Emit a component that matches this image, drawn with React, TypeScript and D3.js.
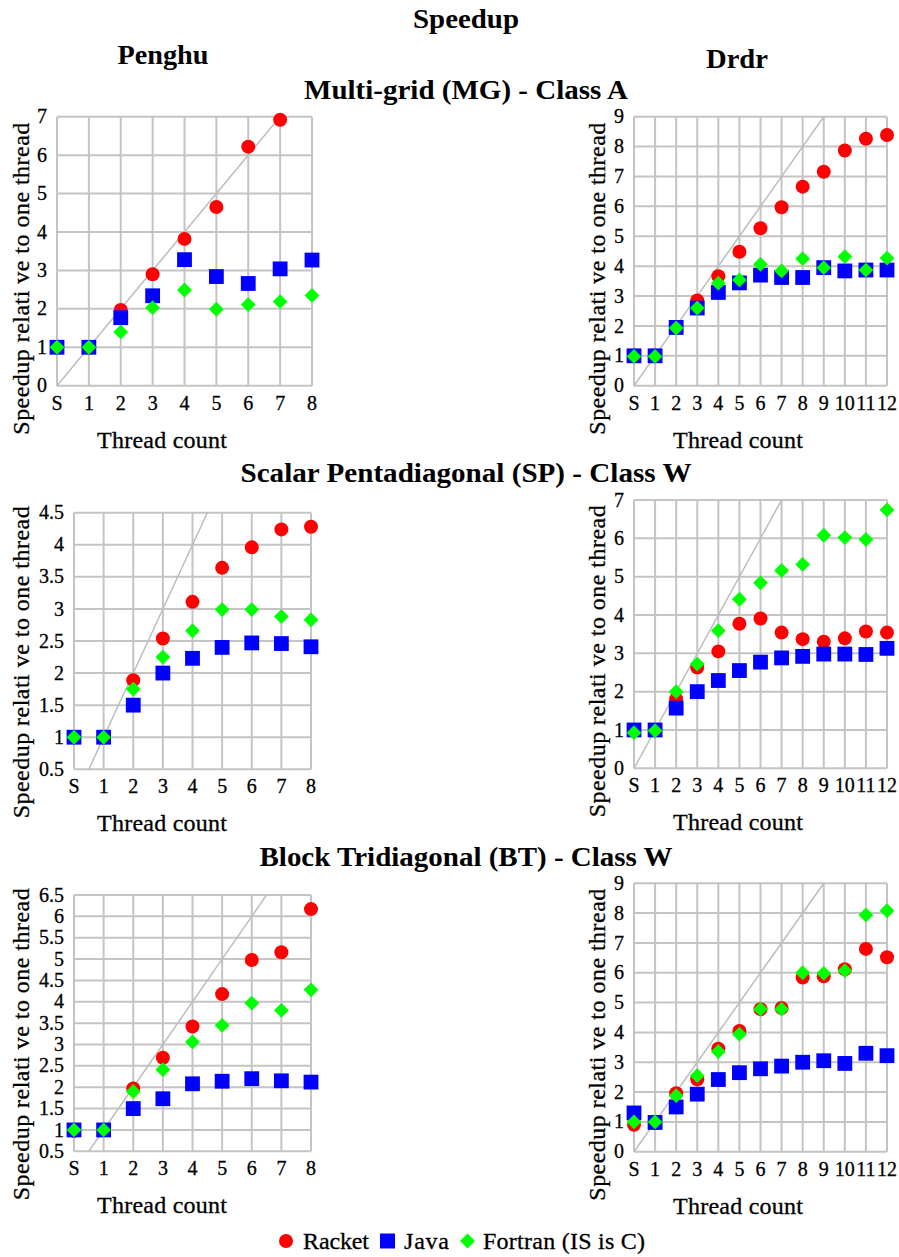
import React, { useRef, useEffect } from 'react';
import * as d3 from 'd3';

// thread-count categories
const catsPenghu = ['S', '1', '2', '3', '4', '5', '6', '7', '8'];
const catsDrdr = ['S', '1', '2', '3', '4', '5', '6', '7', '8', '9', '10', '11', '12'];

// Multi-grid (MG) - Class A
const mgPenghuRacket = [1, 1, 1.97, 2.9, 3.82, 4.65, 6.22, 6.92, null];
const mgPenghuJava = [1, 1, 1.77, 2.34, 3.28, 2.84, 2.66, 3.04, 3.27];
const mgPenghuFortran = [1, 1, 1.4, 2.03, 2.49, 1.99, 2.11, 2.19, 2.35];
const mgDrdrRacket = [1, 1, 1.95, 2.85, 3.66, 4.48, 5.27, 5.97, 6.66, 7.16, 7.87, 8.26, 8.39];
const mgDrdrJava = [1, 1, 1.95, 2.6, 3.12, 3.44, 3.7, 3.62, 3.62, 3.95, 3.84, 3.87, 3.87];
const mgDrdrFortran = [0.98, 0.98, 1.93, 2.6, 3.43, 3.54, 4.06, 3.84, 4.25, 3.95, 4.32, 3.87, 4.27];

// Scalar Pentadiagonal (SP) - Class W
const spPenghuRacket = [1, 1, 1.89, 2.54, 3.11, 3.64, 3.96, 4.24, 4.28];
const spPenghuJava = [1, 1, 1.5, 2.0, 2.23, 2.4, 2.47, 2.46, 2.41];
const spPenghuFortran = [1, 1, 1.75, 2.25, 2.66, 2.99, 2.99, 2.88, 2.83];
const spDrdrRacket = [1, 1, 1.8, 2.63, 3.05, 3.77, 3.91, 3.54, 3.37, 3.3, 3.39, 3.57, 3.54];
const spDrdrJava = [1, 1, 1.57, 2.0, 2.29, 2.55, 2.77, 2.88, 2.92, 2.98, 2.98, 2.97, 3.13];
const spDrdrFortran = [0.93, 0.98, 2.0, 2.72, 3.59, 4.41, 4.84, 5.16, 5.32, 6.08, 6.02, 5.97, 6.74];

// Block Tridiagonal (BT) - Class W
const btPenghuRacket = [0.98, 1, 1.97, 2.69, 3.42, 4.18, 4.98, 5.16, 6.17];
const btPenghuJava = [1, 1, 1.5, 1.73, 2.08, 2.14, 2.2, 2.15, 2.12];
const btPenghuFortran = [1, 1, 1.9, 2.41, 3.06, 3.45, 3.97, 3.8, 4.28];
const btDrdrRacket = [0.9, 0.98, 1.96, 2.43, 3.45, 4.05, 4.78, 4.82, 5.84, 5.88, 6.12, 6.8, 6.52];
const btDrdrJava = [1.3, 0.98, 1.5, 1.93, 2.42, 2.65, 2.78, 2.87, 3.0, 3.05, 2.96, 3.3, 3.22];
const btDrdrFortran = [1, 1, 1.88, 2.55, 3.36, 3.94, 4.78, 4.78, 6.0, 5.98, 6.07, 7.94, 8.08];

const FONT = "'Liberation Serif', 'Times New Roman', Times, serif";
const GRID = '#c4c4c4';

const panels = [
  { cats: catsPenghu, racket: mgPenghuRacket, java: mgPenghuJava, fortran: mgPenghuFortran,
    yMin: 0, yMax: 7, step: 1, left: 57, right: 312, top: 116.7, bottom: 385.7, labelX: 29, titleX: 162 },
  { cats: catsDrdr, racket: mgDrdrRacket, java: mgDrdrJava, fortran: mgDrdrFortran,
    yMin: 0, yMax: 9, step: 1, left: 634, right: 887, top: 116.7, bottom: 385.7, labelX: 605, titleX: 738 },
  { cats: catsPenghu, racket: spPenghuRacket, java: spPenghuJava, fortran: spPenghuFortran,
    yMin: 0.5, yMax: 4.5, step: 0.5, left: 74, right: 311, top: 512.7, bottom: 769.3, labelX: 29, titleX: 162 },
  { cats: catsDrdr, racket: spDrdrRacket, java: spDrdrJava, fortran: spDrdrFortran,
    yMin: 0, yMax: 7, step: 1, left: 634, right: 887, top: 500, bottom: 768.3, labelX: 605, titleX: 738 },
  { cats: catsPenghu, racket: btPenghuRacket, java: btPenghuJava, fortran: btPenghuFortran,
    yMin: 0.5, yMax: 6.5, step: 0.5, left: 74, right: 311, top: 895, bottom: 1151.3, labelX: 29, titleX: 162 },
  { cats: catsDrdr, racket: btDrdrRacket, java: btDrdrJava, fortran: btDrdrFortran,
    yMin: 0, yMax: 9, step: 1, left: 634, right: 887, top: 883.3, bottom: 1151.7, labelX: 605, titleX: 738 },
];

const titles = [
  { text: 'Speedup', x: 466, y: 28, len: 106 },
  { text: 'Penghu', x: 163, y: 64, len: 91 },
  { text: 'Drdr', x: 737, y: 68, len: 62 },
  { text: 'Multi-grid (MG) - Class A', x: 466, y: 99, len: 324 },
  { text: 'Scalar Pentadiagonal (SP) - Class W', x: 466, y: 482, len: 451 },
  { text: 'Block Tridiagonal (BT) - Class W', x: 466, y: 866, len: 413 },
];

const diamond = (cx: number, cy: number, r: number) =>
  `M${cx},${cy - r}L${cx + r},${cy}L${cx},${cy + r}L${cx - r},${cy}Z`;

const SpeedupChart = () => {
  const svgRef = useRef<SVGSVGElement | null>(null);

  useEffect(() => {
    const svg = d3.select(svgRef.current);
    svg.selectAll('*').remove();

    svg.append('rect').attr('width', 899).attr('height', 1257).attr('fill', '#fff');

    // titles
    titles.forEach(t => {
      svg.append('text')
        .attr('x', t.x).attr('y', t.y)
        .attr('text-anchor', 'middle')
        .style('font-family', FONT)
        .style('font-weight', 'bold')
        .style('font-size', '27px')
        .attr('textLength', t.len)
        .attr('lengthAdjust', 'spacingAndGlyphs')
        .text(t.text);
    });

    panels.forEach(p => {
      const g = svg.append('g');
      const x = d3.scalePoint().domain(p.cats).range([p.left, p.right]);
      const y = d3.scaleLinear().domain([p.yMin, p.yMax]).range([p.bottom, p.top]);
      const ticks = d3.range(p.yMin, p.yMax + p.step / 2, p.step);

      // grid
      g.selectAll('.hgrid').data(ticks).enter().append('line')
        .attr('x1', p.left).attr('x2', p.right)
        .attr('y1', d => y(d)).attr('y2', d => y(d))
        .attr('stroke', GRID).attr('stroke-width', 2);
      g.selectAll('.vgrid').data(p.cats).enter().append('line')
        .attr('x1', d => x(d)!).attr('x2', d => x(d)!)
        .attr('y1', p.top).attr('y2', p.bottom)
        .attr('stroke', GRID).attr('stroke-width', 2);

      // ideal speedup line (y = thread index), clipped to plot area
      const idx = d3.scaleLinear().domain([0, p.cats.length - 1]).range([p.left, p.right]);
      const t0 = Math.max(0, p.yMin);
      const t1 = Math.min(p.yMax, p.cats.length - 1);
      g.append('line')
        .attr('x1', idx(t0)).attr('y1', y(t0))
        .attr('x2', idx(t1)).attr('y2', y(t1))
        .attr('stroke', '#bdbdbd').attr('stroke-width', 1.5);

      // y tick labels
      g.selectAll('.ylab').data(ticks).enter().append('text')
        .attr('x', p.left - 10).attr('y', d => y(d))
        .attr('dy', '0.33em')
        .attr('text-anchor', 'end')
        .style('font-family', FONT).style('font-size', '20px')
        .attr('stroke', '#000').attr('stroke-width', 0.3)
        .text(d => String(+d.toFixed(1)));

      // x tick labels
      g.selectAll('.xlab').data(p.cats).enter().append('text')
        .attr('x', d => x(d)!).attr('y', p.bottom + 24)
        .attr('text-anchor', 'middle')
        .style('font-family', FONT).style('font-size', '20px')
        .attr('stroke', '#000').attr('stroke-width', 0.3)
        .text(d => d);

      // axis titles
      g.append('text')
        .attr('x', p.titleX)
        .attr('y', p.bottom + 62)
        .attr('text-anchor', 'middle')
        .style('font-family', FONT).style('font-size', '24px')
        .attr('stroke', '#000').attr('stroke-width', 0.3)
        .attr('textLength', 130).attr('lengthAdjust', 'spacing')
        .text('Thread count');
      g.append('text')
        .attr('transform', `translate(${p.labelX},${p.bottom - 107}) rotate(-90)`)
        .attr('text-anchor', 'middle')
        .style('font-family', FONT).style('font-size', '24px')
        .attr('stroke', '#000').attr('stroke-width', 0.3)
        .attr('textLength', 312).attr('lengthAdjust', 'spacing')
        .text('Speedup relati ve to one thread');

      // markers: Racket, then Java, then Fortran on top
      const pts = (vals: (number | null)[]) =>
        vals.map((v, k) => ({ c: p.cats[k], v })).filter(d => d.v !== null) as { c: string; v: number }[];

      g.selectAll('.racket').data(pts(p.racket)).enter().append('circle')
        .attr('cx', d => x(d.c)!).attr('cy', d => y(d.v))
        .attr('r', 7).attr('fill', '#ff0000');
      g.selectAll('.java').data(pts(p.java)).enter().append('rect')
        .attr('x', d => x(d.c)! - 7.4).attr('y', d => y(d.v) - 7.4)
        .attr('width', 14.8).attr('height', 14.8).attr('fill', '#0000ff');
      g.selectAll('.fortran').data(pts(p.fortran)).enter().append('path')
        .attr('d', d => diamond(x(d.c)!, y(d.v), 7.4))
        .attr('fill', '#00ff00');
    });

    // legend
    const lg = svg.append('g');
    const ly = 1241;
    lg.append('circle').attr('cx', 286).attr('cy', ly).attr('r', 7).attr('fill', '#ff0000');
    lg.append('rect').attr('x', 380).attr('y', ly - 7.5).attr('width', 15).attr('height', 15).attr('fill', '#0000ff');
    lg.append('path').attr('d', diamond(467.5, ly, 7.5)).attr('fill', '#00ff00');
    const legendText = [
      { t: 'Racket', x: 303, len: 66 },
      { t: 'Java', x: 404, len: 45 },
      { t: 'Fortran (IS is C)', x: 483, len: 162 },
    ];
    legendText.forEach(l => {
      lg.append('text')
        .attr('x', l.x).attr('y', ly + 8)
        .style('font-family', FONT).style('font-size', '24px')
        .attr('stroke', '#000').attr('stroke-width', 0.3)
        .attr('textLength', l.len).attr('lengthAdjust', 'spacing')
        .text(l.t);
    });
  }, []);

  return <svg ref={svgRef} width={899} height={1257}
    style={{ position: 'absolute', left: 0, top: 0, display: 'block' }}></svg>;
};

export default function App() {
  return <SpeedupChart />;
}
